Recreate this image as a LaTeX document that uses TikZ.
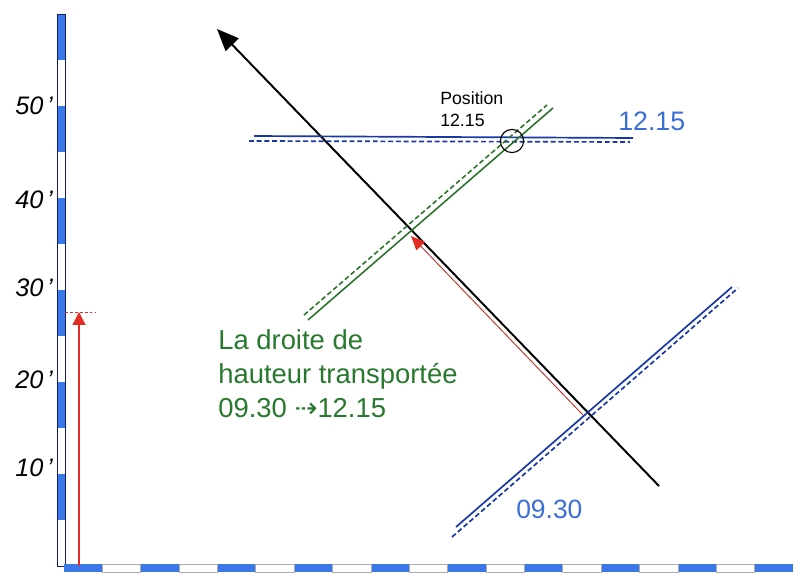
\documentclass[tikz,border=0pt]{standalone}
\usepackage{fontspec}
\setmainfont{Liberation Sans}
\newfontfamily\arrowfont{DejaVu Sans}
\usetikzlibrary{positioning,arrows.meta}
\definecolor{axisblue}{RGB}{59,120,231}
\definecolor{axisnavy}{RGB}{20,30,110}
\definecolor{axisgray}{RGB}{170,170,170}
\definecolor{loblue}{RGB}{25,55,165}
\definecolor{labelblue}{RGB}{60,110,215}
\definecolor{logreen}{RGB}{40,115,40}
\definecolor{txtgreen}{RGB}{40,120,45}
\definecolor{redhead}{RGB}{225,45,35}
\definecolor{redline}{RGB}{190,60,50}

\begin{document}
\begin{tikzpicture}[x=0.025cm,y=-0.025cm,
        lineblue/.style={draw=loblue,line width=1.2pt},
        linegreen/.style={draw=logreen,line width=1.1pt},
        dashpat/.style={dash pattern=on 3.5pt off 2pt}]
    \useasboundingbox (0,0) rectangle (800,584);

    % echelle des minutes
    \foreach \i in {0,2,...,10}
        \fill[axisblue] (57,{14+46*\i}) rectangle (65,{60+46*\i});
    \draw[axisnavy,line width=0.6pt] (57,14) rectangle (65,566);
    \foreach \i in {0,2,...,18}
        \fill[axisblue] ({64+38.37*\i},564) rectangle ({102.37+38.37*\i},572);
    \foreach \i in {1,3,...,17}
        \draw[axisgray,line width=0.6pt] ({64+38.37*\i},564) rectangle ({102.37+38.37*\i},572);
    \foreach \m/\y in {10/468,20/380,30/288,40/200,50/106}
        \node [anchor=east,inner sep=0pt,font=\fontsize{18}{20}\selectfont\itshape] (m\m) at (53,\y) {\m\kern2.5pt’};

    % distance parcourue
    \coordinate (r0) at (79,566);
    \coordinate (r1) at (79,312);
    \coordinate (t0) at (65,312);
    \coordinate (t1) at (95,312);
    \draw [redhead,line width=1pt,-{Triangle[length=9.2pt,width=9.2pt]}] (r0) -- (r1);
    \draw [redhead,line width=0.6pt,dash pattern=on 2pt off 1.5pt] (t0) -- (t1);

    % route
    \coordinate (z0) at (659,486);
    \coordinate (z1) at (217,29);
    \draw [line width=1.4pt,-{Triangle[length=15.6pt,width=12.8pt]}] (z0) -- (z1);

    % droite de 09.30
    \coordinate (a0) at (456,527);
    \coordinate (a1) at (732,287);
    \coordinate (b0) at (452,537);
    \coordinate (b1) at (738,288);
    \draw [lineblue] (a0) -- (a1);
    \draw [lineblue,dashpat] (b0) -- (b1);
    \node [anchor=base west,inner sep=0pt,text=labelblue,font=\fontsize{18.8}{22}\selectfont] (h0930) at (516,518) {09.30};

    % droite de 12.15
    \coordinate (c0) at (254,136);
    \coordinate (c1) at (633,138);
    \coordinate (d0) at (249,141);
    \coordinate (d1) at (630,142);
    \draw [lineblue] (c0) -- (c1);
    \draw [lineblue,dashpat] (d0) -- (d1);
    \node [anchor=base west,inner sep=0pt,text=labelblue,font=\fontsize{19}{22}\selectfont] (h1215) at (618,131) {12.15};

    % droite transportee
    \coordinate (g0) at (308,320);
    \coordinate (g1) at (553,108);
    \coordinate (e0) at (304,315);
    \coordinate (e1) at (547,105);
    \draw [linegreen] (g0) -- (g1);
    \draw [linegreen,dashpat] (e0) -- (e1);
    \coordinate (s0) at (583,415);
    \coordinate (s1) at (411,236);
    \draw [redline,line width=0.7pt,-{Triangle[length=10pt,width=8.5pt,color=redhead]}] (s0) -- (s1);
    \node [anchor=north west,inner sep=0pt,align=left,text=txtgreen,font=\fontsize{19.5}{24.2}\selectfont] (transp) at (218,329)
        {La droite de\\hauteur transportée\\09.30 {\arrowfont ⇢}12.15};

    % point
    \node [circle,draw,line width=0.8pt,minimum size=16.5pt,inner sep=0pt] (pos) at (512,141) {};
    \node [anchor=north west,inner sep=0pt,align=left,font=\fontsize{12.6}{15.6}\selectfont] (lpos) at (440,91) {Position\\12.15};
\end{tikzpicture}
\end{document}
